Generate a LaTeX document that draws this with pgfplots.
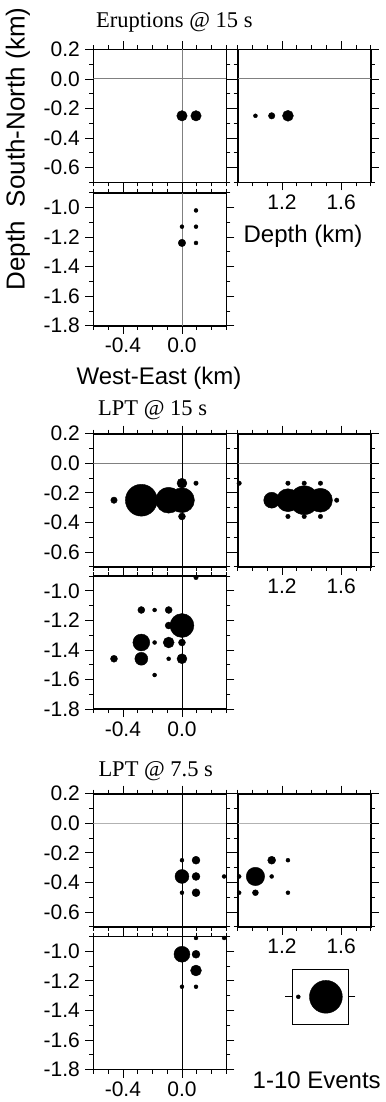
\documentclass[border=0pt]{standalone}
\usepackage{fontspec}
\setmainfont{Liberation Sans}
\newfontfamily\titlefam{Liberation Serif}
\usepackage{pgfplots}
\pgfplotsset{compat=1.18}

\newcommand\tlfont{\fontsize{21bp}{25bp}\selectfont}
\newcommand\labfont{\fontsize{24bp}{28bp}\selectfont}
\newcommand\ylabfont{\fontsize{26bp}{30bp}\selectfont}
\newcommand\ttlfont{\titlefam\fontsize{22.5bp}{26bp}\selectfont}

\pgfplotsset{
  panel/.style={scale only axis, width=133bp, height=133bp, anchor=north west,
    axis line style={line width=1.6bp}, tick align=outside, tick pos=both,
    major tick length=8bp, minor tick length=4bp,
    every tick/.style={black, line width=0.7bp},
    tick label style={font=\tlfont},
    yticklabel style={xshift=-2bp}, xticklabel style={yshift=-1bp}},
  mapx/.style={xmin=-0.6, xmax=0.3, xtick={-0.4,0}, xticklabels={-0.4,0.0},
    minor xtick={-0.6,-0.5,-0.3,-0.2,-0.1,0.1,0.2,0.3}},
  depx/.style={xmin=0.9, xmax=1.8, xtick={1.2,1.6}, xticklabels={1.2,1.6},
    minor xtick={0.9,1.0,1.1,1.3,1.4,1.5,1.7,1.8}},
  sny/.style={ymin=-0.7, ymax=0.2, ytick={-0.6,-0.4,-0.2,0,0.2},
    yticklabels={-0.6,-0.4,-0.2,0.0,0.2}, minor ytick={-0.7,-0.5,-0.3,-0.1,0.1}},
  depy/.style={ymin=-1.8, ymax=-0.9, ytick={-1.8,-1.6,-1.4,-1.2,-1.0},
    yticklabels={-1.8,-1.6,-1.4,-1.2,-1.0}, minor ytick={-1.7,-1.5,-1.3,-1.1,-0.9}},
  ev/.style={scatter, only marks, mark=*, scatter src=explicit,
    scatter/use mapped color={draw=black, fill=black},
    visualization depends on={\thisrow{d}/2 \as \rad},
    scatter/@pre marker code/.append style={/tikz/mark size=\rad}},
}

% ---------------- data (x or depth, y, marker diameter) ----------------
\pgfplotstableread{
x y d
0 -0.25 10.5
0.095 -0.25 10.5
}\EruMap
\pgfplotstableread{
x y d
1.02 -0.25 4
1.13 -0.25 6.5
1.24 -0.25 11
}\EruDep
\pgfplotstableread{
x y d
0.095 -1.02 4
0 -1.13 4
0.095 -1.13 4
0 -1.24 7.5
0.095 -1.24 4
}\EruSec

\pgfplotstableread{
x y d
-0.46 -0.25 6.5
-0.275 -0.25 32
-0.09 -0.25 26
0 -0.25 25
0 -0.135 10
0.095 -0.135 4.5
0 -0.36 7
}\LpaMap
\pgfplotstableread{
x y d
0.91 -0.135 4.5
1.13 -0.25 16
1.24 -0.25 23
1.35 -0.25 29
1.46 -0.25 24
1.57 -0.25 4.5
1.24 -0.135 4.5
1.35 -0.135 4.5
1.46 -0.135 4.5
1.24 -0.36 4.5
1.35 -0.36 4.5
1.46 -0.36 4.5
}\LpaDep
\pgfplotstableread{
x y d
0.095 -0.91 4.5
-0.275 -1.13 7
-0.185 -1.13 4
-0.09 -1.13 7
-0.09 -1.235 7
0 -1.235 24
-0.275 -1.35 17
-0.185 -1.35 4
-0.09 -1.35 11
0 -1.35 7
-0.46 -1.46 7
-0.275 -1.46 13
-0.09 -1.46 4
0 -1.46 10
-0.185 -1.57 4
}\LpaSec

\pgfplotstableread{
x y d
0 -0.25 4
0.095 -0.25 8
0 -0.36 14
0.095 -0.36 8
0.285 -0.36 4
0 -0.47 4
0.095 -0.47 8
}\LpbMap
\pgfplotstableread{
x y d
0.91 -0.36 4
0.91 -0.47 4
1.02 -0.36 18.5
1.02 -0.47 6
1.13 -0.25 8
1.13 -0.36 4
1.24 -0.25 4
1.24 -0.47 4
}\LpbDep
\pgfplotstableread{
x y d
0.095 -0.91 4
0.285 -0.91 4
0 -1.02 16
0.095 -1.02 8
0.095 -1.13 11
0 -1.24 4
0.095 -1.24 4
}\LpbSec

\pgfplotstableread{
x y d
0.107 0.5 4
0.6 0.5 33
}\Scale

\begin{document}
\begin{tikzpicture}
\path[use as bounding box] (0,0) rectangle (386bp,-1102bp);

% ================= Eruptions @ 15 s =================
\node[anchor=base west, inner sep=0] at (96bp,-27.3bp) {\ttlfont Eruptions @ 15 s};
\begin{axis}[panel, mapx, sny, xticklabels={}, at={(93.3bp,-49.3bp)}]
  \addplot[gray, line width=0.8bp] coordinates {(-0.6,0) (0.3,0)};
  \addplot[gray, line width=0.8bp] coordinates {(0,-0.7) (0,0.2)};
  \addplot[ev] table[x=x,y=y,meta=d] {\EruMap};
\end{axis}
\begin{axis}[panel, depx, sny, yticklabels={}, at={(237.7bp,-49.3bp)}]
  \addplot[gray, line width=0.8bp] coordinates {(0.9,0) (1.8,0)};
  \addplot[ev] table[x=x,y=y,meta=d] {\EruDep};
\end{axis}
\begin{axis}[panel, mapx, depy, at={(93.3bp,-192.7bp)}]
  \addplot[gray, line width=0.8bp] coordinates {(0,-1.8) (0,-0.9)};
  \addplot[ev] table[x=x,y=y,meta=d] {\EruSec};
\end{axis}
\node[rotate=90, inner sep=0] at (18bp,-149bp) {\ylabfont Depth\hspace{14bp}South-North (km)};
\node[inner sep=0] at (303bp,-236bp) {\labfont Depth (km)};
\node[inner sep=0] at (159bp,-378bp) {\labfont West-East (km)};

% ================= LPT @ 15 s =================
\node[anchor=base west, inner sep=0] at (98bp,-415bp) {\ttlfont LPT @ 15 s};
\begin{axis}[panel, mapx, sny, xticklabels={}, at={(93.3bp,-433.7bp)}]
  \addplot[gray, line width=0.8bp] coordinates {(-0.6,0) (0.3,0)};
  \addplot[black, line width=0.6bp] coordinates {(0,-0.7) (0,0.2)};
  \addplot[ev] table[x=x,y=y,meta=d] {\LpaMap};
\end{axis}
\begin{axis}[panel, depx, sny, yticklabels={}, at={(237.7bp,-433.7bp)}]
  \addplot[gray, line width=0.8bp] coordinates {(0.9,0) (1.8,0)};
  \addplot[ev] table[x=x,y=y,meta=d] {\LpaDep};
\end{axis}
\begin{axis}[panel, mapx, depy, at={(93.3bp,-576bp)}]
  \addplot[black, line width=0.6bp] coordinates {(0,-1.8) (0,-0.9)};
  \addplot[ev] table[x=x,y=y,meta=d] {\LpaSec};
\end{axis}

% ================= LPT @ 7.5 s =================
\node[anchor=base west, inner sep=0] at (98.3bp,-776bp) {\ttlfont LPT @ 7.5 s};
\begin{axis}[panel, mapx, sny, xticklabels={}, at={(93.3bp,-793.7bp)}]
  \addplot[black!30, line width=1.2bp] coordinates {(-0.6,0) (0.3,0)};
  \addplot[black, line width=0.6bp] coordinates {(0,-0.7) (0,0.2)};
  \addplot[ev] table[x=x,y=y,meta=d] {\LpbMap};
\end{axis}
\begin{axis}[panel, depx, sny, yticklabels={}, at={(237.7bp,-793.7bp)}]
  \addplot[black!30, line width=1.2bp] coordinates {(0.9,0) (1.8,0)};
  \addplot[ev] table[x=x,y=y,meta=d] {\LpbDep};
\end{axis}
\begin{axis}[panel, mapx, depy, at={(93.3bp,-936.5bp)}]
  \addplot[black, line width=0.6bp] coordinates {(0,-1.8) (0,-0.9)};
  \addplot[ev] table[x=x,y=y,meta=d] {\LpbSec};
\end{axis}

% ================= size scale =================
\begin{axis}[scale only axis, width=56bp, height=55bp, anchor=north west,
  at={(292.3bp,-969.3bp)}, xmin=0, xmax=1, ymin=0, ymax=1,
  axis line style={line width=1.6bp}, tick align=outside, tick pos=both,
  xtick=\empty, ytick={0.5}, yticklabels={}, major tick length=7bp,
  every tick/.style={black, line width=0.7bp}]
  \addplot[ev] table[x=x,y=y,meta=d] {\Scale};
\end{axis}
\node[inner sep=0] at (316.7bp,-1080bp) {\labfont 1-10 Events};
\end{tikzpicture}
\end{document}
